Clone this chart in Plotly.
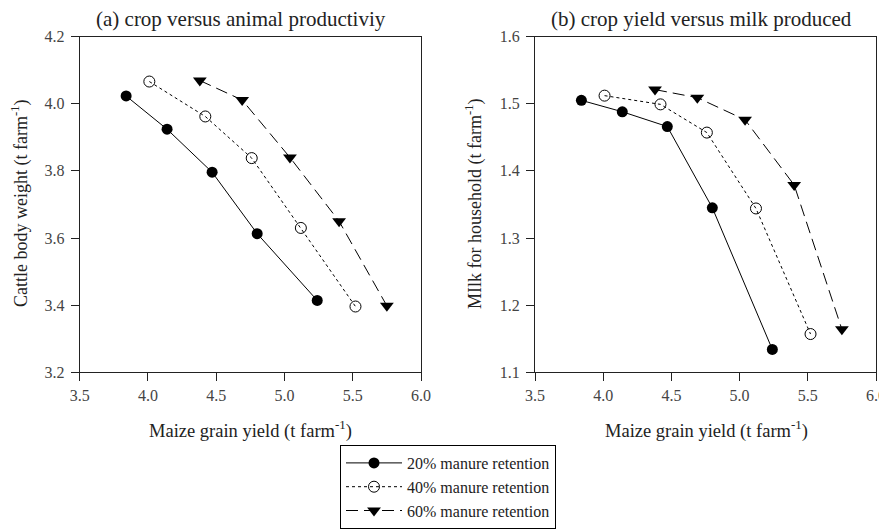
import plotly.graph_objects as go

# Data
maize_20 = [3.84, 4.14, 4.47, 4.80, 5.24]
maize_40 = [4.01, 4.42, 4.76, 5.12, 5.52]
maize_60 = [4.38, 4.69, 5.04, 5.40, 5.75]

cattle_20 = [4.023, 3.924, 3.796, 3.613, 3.414]
cattle_40 = [4.066, 3.962, 3.838, 3.630, 3.396]
cattle_60 = [4.069, 4.011, 3.840, 3.650, 3.398]

milk_20 = [1.505, 1.488, 1.466, 1.345, 1.134]
milk_40 = [1.512, 1.499, 1.457, 1.344, 1.157]
milk_60 = [1.521, 1.509, 1.476, 1.379, 1.164]

series_names = ["20% manure retention", "40% manure retention", "60% manure retention"]

# page body has an 8px margin, so the figure is drawn 8px in from the window corner
OFF = 8
W, H = 887 - OFF, 529 - OFF
FONT = "Liberation Serif"

styles = [
    dict(line=dict(color="black", width=1, dash="solid"),
         marker=dict(symbol="circle", size=11, color="black")),
    dict(line=dict(color="black", width=1, dash="dot"),
         marker=dict(symbol="circle-open", size=11, color="black", line=dict(width=1, color="black"))),
    dict(line=dict(color="black", width=1, dash="12px,6px"),
         marker=dict(symbol="triangle-down", size=12, color="black")),
]

fig = go.Figure()
xs = [maize_20, maize_40, maize_60]
ya = [cattle_20, cattle_40, cattle_60]
yb = [milk_20, milk_40, milk_60]
for i in range(3):
    fig.add_trace(go.Scatter(x=xs[i], y=ya[i], mode="lines+markers", name=series_names[i],
                             xaxis="x", yaxis="y", showlegend=True, **styles[i]))
for i in range(3):
    fig.add_trace(go.Scatter(x=xs[i], y=yb[i], mode="lines+markers", name=series_names[i],
                             xaxis="x2", yaxis="y2", showlegend=False, **styles[i]))

def px_x(p):
    return (p - OFF) / W

def px_y(p):
    return 1 - (p - OFF) / H

axis_common = dict(showline=True, linecolor="#222", linewidth=1, mirror=True,
                   ticks="outside", ticklen=8, tickcolor="#222", tickwidth=1,
                   showgrid=False, zeroline=False, automargin=False,
                   tickfont=dict(family=FONT, size=16, color="#444"))

fig.update_layout(
    width=W, height=H,
    margin=dict(l=0, r=0, t=0, b=0),
    paper_bgcolor="white", plot_bgcolor="white",
    font=dict(family=FONT, color="#222"),
    xaxis=dict(domain=[px_x(79.7), px_x(421)], range=[3.5, 6.0], dtick=0.5, tickformat=".1f",
               anchor="y", **axis_common),
    yaxis=dict(domain=[px_y(378), px_y(37)], range=[3.2, 4.2], dtick=0.2, tickformat=".1f",
               anchor="x", ticklabelstandoff=3, **axis_common),
    xaxis2=dict(domain=[px_x(535), px_x(876)], range=[3.5, 6.0], dtick=0.5, tickformat=".1f",
                anchor="y2", **axis_common),
    yaxis2=dict(domain=[px_y(378), px_y(37)], range=[1.1, 1.6], dtick=0.1, tickformat=".1f",
                anchor="x2", ticklabelstandoff=3, **axis_common),
    legend=dict(x=px_x(340), y=px_y(452), xanchor="left", yanchor="top",
                bgcolor="white", bordercolor="black", borderwidth=1,
                font=dict(family=FONT, size=16, color="#222"),
                itemwidth=56, tracegroupgap=0),
)

annotations = [
    dict(text="(a) crop versus animal productiviy", x=px_x(241), y=px_y(19), size=21),
    dict(text="(b) crop yield versus milk produced", x=px_x(701), y=px_y(19), size=21),
    dict(text="Maize grain yield (t farm<sup>-1</sup>)", x=px_x(250), y=px_y(436), size=18.5),
    dict(text="Maize grain yield (t farm<sup>-1</sup>)", x=px_x(706), y=px_y(436), size=18.5),
]
for a in annotations:
    fig.add_annotation(text=a["text"], x=a["x"], y=a["y"], xref="paper", yref="paper",
                       xanchor="center", yanchor="middle", showarrow=False,
                       font=dict(family=FONT, size=a["size"], color="#222"))

fig.add_annotation(text="Cattle body weight (t farm<sup>-1</sup>)", x=px_x(20), y=px_y(207),
                   xref="paper", yref="paper", xanchor="center", yanchor="middle",
                   showarrow=False, textangle=-90, font=dict(family=FONT, size=18, color="#222"))
fig.add_annotation(text="MIlk for household (t farm<sup>-1</sup>)", x=px_x(474), y=px_y(207),
                   xref="paper", yref="paper", xanchor="center", yanchor="middle",
                   showarrow=False, textangle=-90, font=dict(family=FONT, size=18, color="#222"))

fig.write_html("out.html")
